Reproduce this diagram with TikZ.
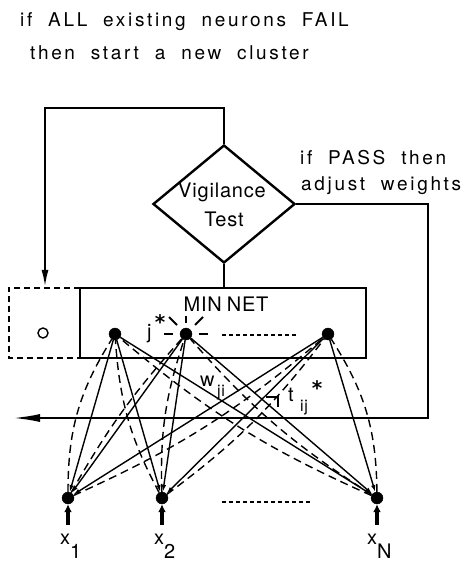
\documentclass[tikz,border=0pt]{standalone}
\usepackage{fontspec}
\setmainfont{TeX Gyre Heros}[LetterSpace=14, WordSpace=2]
\newfontfamily\tightfont{TeX Gyre Heros}[LetterSpace=4]
\newfontfamily\starfont{DejaVu Sans}
\usetikzlibrary{shapes.geometric,arrows.meta,calc}

\begin{document}
\begin{tikzpicture}[x=1pt,y=-1pt,
  txt/.style={inner sep=0pt, font=\fontsize{19}{22}\selectfont},
  lbl/.style={inner sep=0pt, font=\tightfont\fontsize{20}{22}\selectfont},
  sub/.style={inner sep=0pt, font=\tightfont\fontsize{16}{18}\selectfont},
  star/.style={inner sep=0pt, font=\starfont\bfseries\fontsize{20}{20}\selectfont},
  heavy/.style={line width=2.4pt},
  link/.style={line width=1.4pt},
  fb/.style={line width=1.4pt, dash pattern=on 8pt off 5pt},
  dotted line/.style={line width=1.5pt, dash pattern=on 4pt off 3pt},
  ray/.style={line width=1.8pt},
  dot/.style={circle, fill, draw, inner sep=0pt, minimum size=12pt},
  tip/.style={-{Latex[length=7pt,width=4.5pt]}},
  ]
\useasboundingbox (0,0) rectangle (468,561);

% captions
\node[txt, anchor=base west] (cap1) at (20,27) {if ALL existing neurons FAIL};
\node[txt, anchor=base west] (cap2) at (30,60) {then start a new cluster};
\node[txt, anchor=base west] (pass1) at (300,165) {if PASS then};
\node[txt, anchor=base west] (pass2) at (301,190) {adjust weights};

% vigilance test
\node[diamond, draw, heavy, minimum width=142pt, minimum height=118pt, inner sep=0pt] (vt) at (224,204) {};
\node[lbl, anchor=base] (vt1) at (222,197) {Vigilance};
\node[lbl, anchor=base] (vt2) at (224,226) {Test};

% MINNET layer and the dashed new-cluster slot
\node[draw, heavy, minimum width=286pt, minimum height=70pt, inner sep=0pt] (mn) at (223,323) {};
\node[lbl, anchor=base] (mnl) at (226,311) {MIN\hspace{5pt}NET};
\node[minimum width=71pt, minimum height=70pt, inner sep=0pt] (db) at (44.5,323) {};
\draw[heavy, dash pattern=on 6pt off 4pt] (db.north east) -- (db.north west) -- (db.south west) -- (db.south east);
\node[circle, draw, line width=1.4pt, minimum size=10pt, inner sep=0pt] (nc) at (43,333) {};

% output neurons
\node[dot] (o1) at (115,334) {};
\node[dot] (o2) at (186,334) {};
\node[dot] (o3) at (328,334) {};
\coordinate (od1) at (222,335);
\coordinate (od2) at (298,335);
\draw[dotted line] (od1) -- (od2);

% winner marker
\draw[ray] ($(o2)+(-22,0)$) -- ($(o2)+(-13,0)$);
\draw[ray] ($(o2)+(13,0)$) -- ($(o2)+(22,0)$);
\draw[ray] ($(o2)+(0,-11)$) -- ($(o2)+(0,-18)$);
\draw[ray] ($(o2)+(-9,-9)$) -- ($(o2)+(-17,-17)$);
\draw[ray] ($(o2)+(9,-9)$) -- ($(o2)+(17,-17)$);
\node[lbl, anchor=base west] (jl) at (147,338) {j};
\node[star, anchor=base] (js) at (160,329) {*};

% input neurons
\node[dot] (i1) at (68,498) {};
\node[dot] (i2) at (162,498) {};
\node[dot] (iN) at (377,498) {};
\coordinate (id1) at (222,502);
\coordinate (id2) at (310,502);
\draw[dotted line] (id1) -- (id2);
\foreach \n/\x in {i1/68, i2/162, iN/377}{
  \coordinate (s\n) at (\x,525);
  \draw[line width=3.2pt, -{Latex[length=8pt,width=8pt]}] (s\n) -- (\n);
}
\node[lbl, anchor=base west] (x1) at (60,544) {x};
\node[lbl, anchor=base west] (x1s) at (70,558) {1};
\node[lbl, anchor=base west] (x2) at (154,544) {x};
\node[lbl, anchor=base west] (x2s) at (164,558) {2};
\node[lbl, anchor=base west] (xN) at (367,544) {x};
\node[lbl, anchor=base west] (xNs) at (377,558) {N};

% bottom-up weights
\foreach \o in {o1,o2,o3}
  \foreach \i in {i1,i2,iN}
    \draw[link, tip] (\o) -- (\i);

% top-down weights
\draw[fb] (i1) to[bend left=16] (o1);
\draw[fb] (i1) to[bend left=6] (o2);
\draw[fb] (i1) to[bend right=8] (o3);
\draw[fb] (i2) to[bend left=12] (o1);
\draw[fb] (i2) to[bend left=10] (o2);
\draw[fb] (i2) to[bend right=8] (o3);
\draw[fb] (iN) to[bend left=8] (o1);
\draw[fb] (iN) to[bend left=8] (o2);
\draw[fb] (iN) to[bend right=16] (o3);

\node[lbl, anchor=base west] (wl) at (200,386) {w};
\node[sub, anchor=base west] (wls) at (217,396) {ji};
\node[lbl, anchor=base west] (tl) at (288,401) {t};
\node[sub, anchor=base west] (tls) at (300,411) {ij};
\node[star, anchor=base] (ts) at (317,395) {*};
\coordinate (tk1) at (266,397);
\coordinate (tk2) at (278,397);
\coordinate (tk3) at (278,407);
\draw[link] (tk1) -- (tk2) -- (tk3);

% control loops
\coordinate (tc) at (45,108);
\draw[heavy, -{Latex[length=18pt,width=7pt]}] (vt.north) |- (tc) -- (db.north -| tc);
\draw[heavy] (vt.south) -- (vt.south |- mn.north);
\coordinate (rc) at (428,418);
\coordinate (le) at (12,418);
\draw[heavy, -{Latex[length=28pt,width=8pt]}] (vt.east) -| (rc) -- (le);
\end{tikzpicture}
\end{document}
